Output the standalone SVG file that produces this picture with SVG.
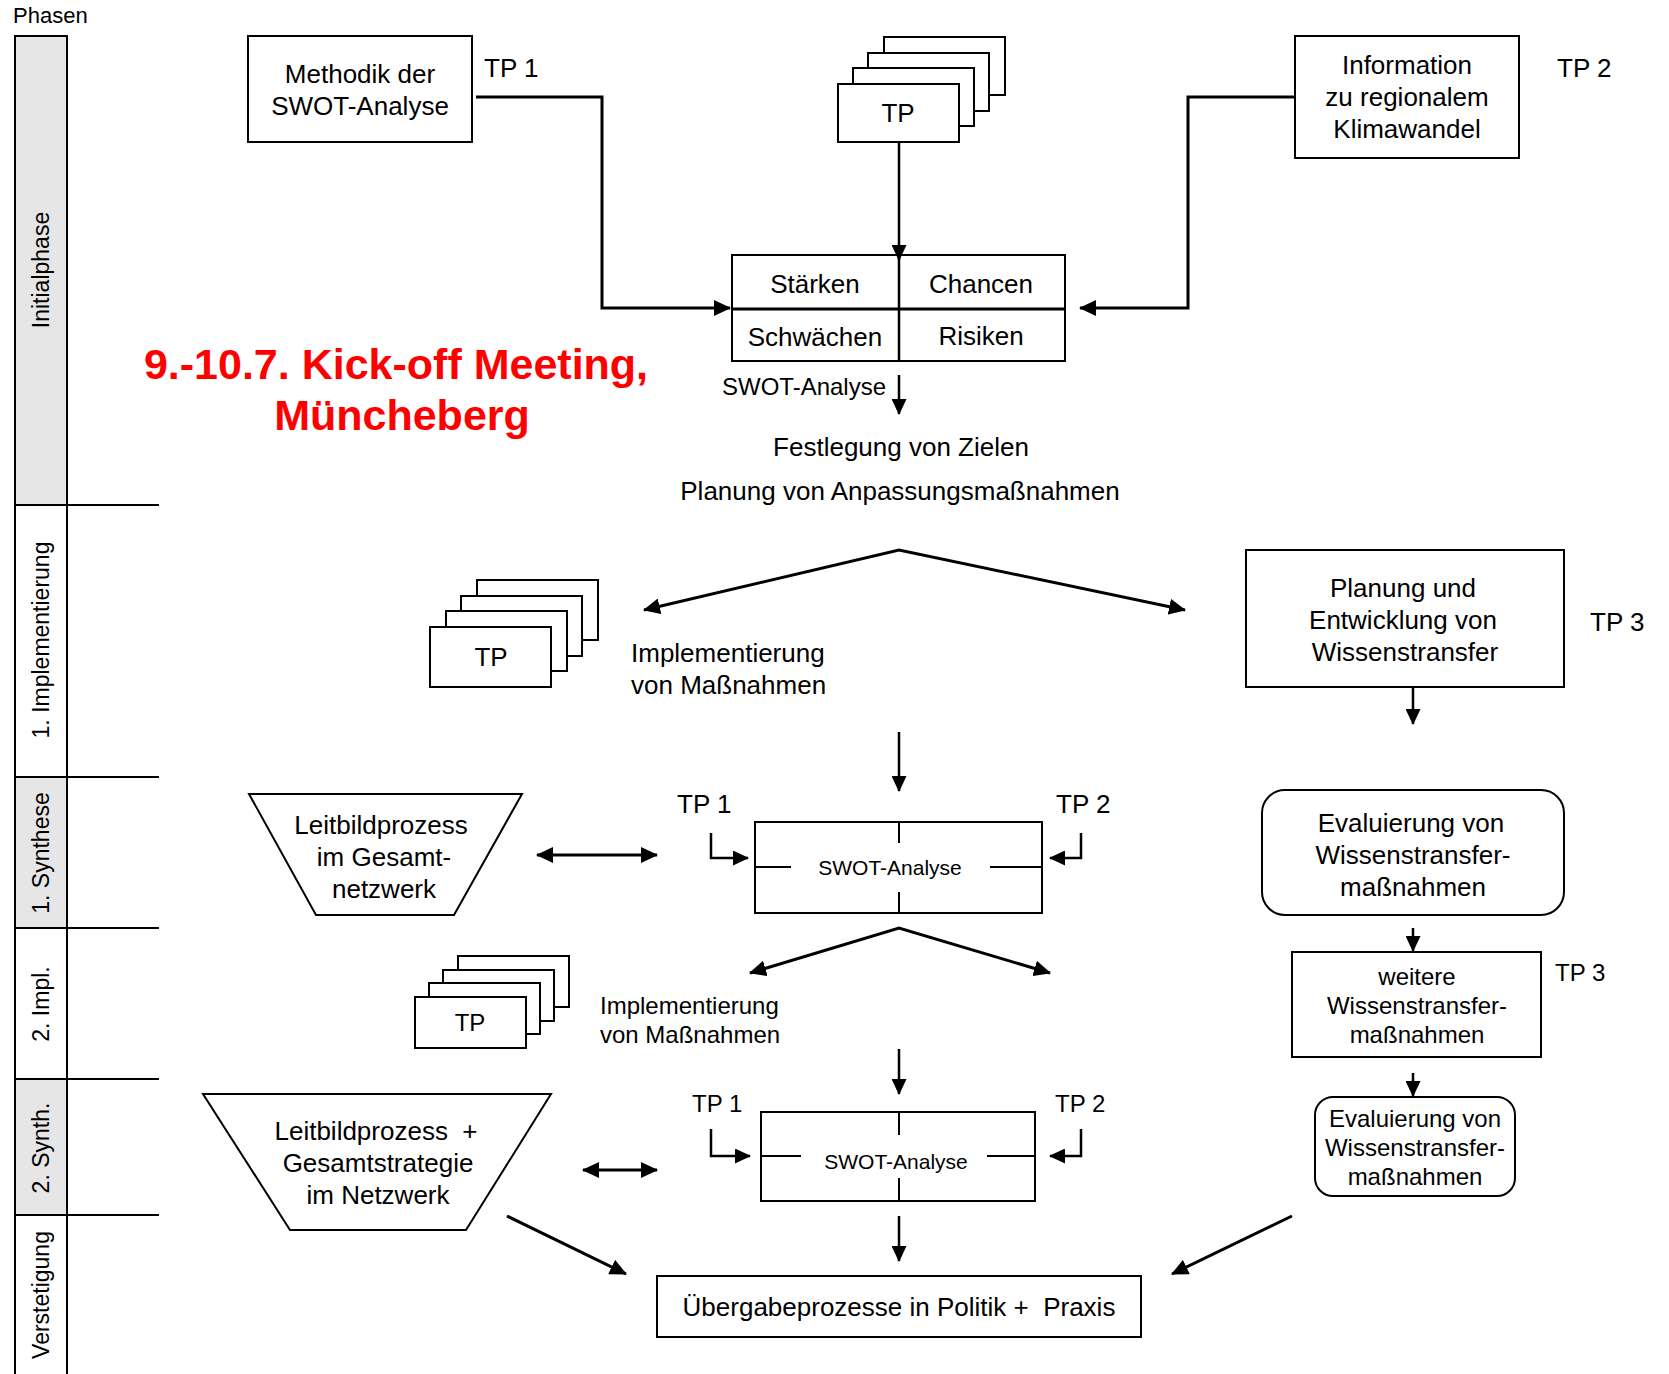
<svg xmlns="http://www.w3.org/2000/svg" width="1669" height="1374" viewBox="0 0 1669 1374">
<style>
text{font-family:"Liberation Sans",Arial,sans-serif;fill:#000}
.t26{font-size:26px}
.t24{font-size:24px}
.t21{font-size:21px}
.c{text-anchor:middle}
.ph{font-size:23px;text-anchor:middle}
.box{fill:#fff;stroke:#000;stroke-width:2}
.thick{fill:none;stroke:#000;stroke-width:3}
.thin{fill:none;stroke:#000;stroke-width:2.5}
.red{font-size:43px;font-weight:bold;fill:#ff0000;text-anchor:middle}
</style>
<defs>
<marker id="ah" markerUnits="userSpaceOnUse" markerWidth="17" markerHeight="16" refX="16" refY="8" orient="auto-start-reverse" viewBox="0 0 17 16">
<path d="M0,0 L17,8 L0,16 z" fill="#000"/>
</marker>
<marker id="as" markerUnits="userSpaceOnUse" markerWidth="16" markerHeight="15" refX="15" refY="7.5" orient="auto-start-reverse" viewBox="0 0 16 15">
<path d="M0,0 L16,7.5 L0,15 z" fill="#000"/>
</marker>
</defs>

<g id="phases">
<text x="13" y="23" style="font-size:22px">Phasen</text>
<rect x="15" y="36" width="52" height="469" fill="#e6e6e6" stroke="#000" stroke-width="2"/>
<rect x="15" y="505" width="52" height="272" fill="#fff" stroke="#000" stroke-width="2"/>
<rect x="15" y="777" width="52" height="151" fill="#e6e6e6" stroke="#000" stroke-width="2"/>
<rect x="15" y="928" width="52" height="151" fill="#fff" stroke="#000" stroke-width="2"/>
<rect x="15" y="1079" width="52" height="136" fill="#e6e6e6" stroke="#000" stroke-width="2"/>
<rect x="15" y="1215" width="52" height="165" fill="#fff" stroke="#000" stroke-width="2"/>
<g stroke="#000" stroke-width="2">
<line x1="15" y1="505" x2="159" y2="505"/>
<line x1="15" y1="777" x2="159" y2="777"/>
<line x1="15" y1="928" x2="159" y2="928"/>
<line x1="15" y1="1079" x2="159" y2="1079"/>
<line x1="15" y1="1215" x2="159" y2="1215"/>
</g>
<text class="ph" x="49" y="270" transform="rotate(-90 49 270)">Initialphase</text>
<text class="ph" x="49" y="640" transform="rotate(-90 49 640)">1. Implementierung</text>
<text class="ph" x="49" y="853" transform="rotate(-90 49 853)">1. Synthese</text>
<text class="ph" x="49" y="1004" transform="rotate(-90 49 1004)">2. Impl.</text>
<text class="ph" x="49" y="1148" transform="rotate(-90 49 1148)">2. Synth.</text>
<text class="ph" x="49" y="1295" transform="rotate(-90 49 1295)">Verstetigung</text>
</g>

<g id="title">
<text class="red" x="396" y="379">9.-10.7. Kick-off Meeting,</text>
<text class="red" x="402" y="430">Müncheberg</text>
</g>

<g id="methodik">
<rect class="box" x="248" y="36" width="224" height="106"/>
<text class="t26 c" x="360" y="83">Methodik der</text>
<text class="t26 c" x="360" y="115">SWOT-Analyse</text>
<text class="t26" x="484" y="77">TP 1</text>
</g>

<g id="tp-stack-1">
<rect class="box" x="884" y="37" width="121" height="58"/>
<rect class="box" x="868" y="53" width="121" height="58"/>
<rect class="box" x="853" y="68" width="121" height="58"/>
<rect class="box" x="838" y="84" width="121" height="58"/>
<text class="t26 c" x="898" y="122">TP</text>
</g>

<g id="information">
<rect class="box" x="1295" y="36" width="224" height="122"/>
<text class="t26 c" x="1407" y="74">Information</text>
<text class="t26 c" x="1407" y="106">zu regionalem</text>
<text class="t26 c" x="1407" y="138">Klimawandel</text>
<text class="t26" x="1557" y="77">TP 2</text>
</g>

<g id="swot-grid">
<rect class="box" x="732" y="255" width="333" height="106"/>
<line x1="899" y1="255" x2="899" y2="361" stroke="#000" stroke-width="2.5"/>
<line x1="732" y1="309" x2="1065" y2="309" stroke="#000" stroke-width="3"/>
<text class="t26 c" x="815" y="293">Stärken</text>
<text class="t26 c" x="981" y="293">Chancen</text>
<text class="t26 c" x="815" y="346">Schwächen</text>
<text class="t26 c" x="981" y="345">Risiken</text>
</g>

<g id="ziele">
<text class="t24" x="722" y="395">SWOT-Analyse</text>
<text class="t26 c" x="901" y="456">Festlegung von Zielen</text>
<text class="t26 c" x="900" y="500">Planung von Anpassungsmaßnahmen</text>
</g>

<g id="tp-stack-2">
<rect class="box" x="477" y="580" width="121" height="60"/>
<rect class="box" x="461" y="596" width="121" height="60"/>
<rect class="box" x="446" y="611" width="121" height="60"/>
<rect class="box" x="430" y="627" width="121" height="60"/>
<text class="t26 c" x="491" y="666">TP</text>
<text class="t26" x="631" y="662">Implementierung</text>
<text class="t26" x="631" y="694">von Maßnahmen</text>
</g>

<g id="planung-wt">
<rect class="box" x="1246" y="550" width="318" height="137"/>
<text class="t26 c" x="1403" y="597">Planung und</text>
<text class="t26 c" x="1403" y="629">Entwicklung von</text>
<text class="t26 c" x="1405" y="661">Wissenstransfer</text>
<text class="t26" x="1590" y="631">TP 3</text>
</g>

<g id="leitbild-1">
<polygon class="box" points="249,794 522,794 454,915 316,915"/>
<text class="t26 c" x="381" y="834">Leitbildprozess</text>
<text class="t26 c" x="384" y="866">im Gesamt-</text>
<text class="t26 c" x="384" y="898">netzwerk</text>
</g>

<g id="swot-1">
<rect class="box" x="755" y="822" width="287" height="91"/>
<g stroke="#000" stroke-width="2">
<line x1="899" y1="822" x2="899" y2="843"/>
<line x1="899" y1="892" x2="899" y2="913"/>
<line x1="755" y1="867" x2="791" y2="867"/>
<line x1="990" y1="867" x2="1042" y2="867"/>
</g>
<text class="t21 c" x="890" y="875">SWOT-Analyse</text>
<text class="t26" x="677" y="813">TP 1</text>
<text class="t26" x="1056" y="813">TP 2</text>
</g>

<g id="eval-1">
<rect class="box" x="1262" y="790" width="302" height="125" rx="23"/>
<text class="t26 c" x="1411" y="832">Evaluierung von</text>
<text class="t26 c" x="1413" y="864">Wissenstransfer-</text>
<text class="t26 c" x="1413" y="896">maßnahmen</text>
</g>

<g id="tp-stack-3">
<rect class="box" x="458" y="956" width="111" height="51"/>
<rect class="box" x="443" y="970" width="111" height="51"/>
<rect class="box" x="429" y="983" width="111" height="51"/>
<rect class="box" x="415" y="997" width="111" height="51"/>
<text class="t24 c" x="470" y="1031">TP</text>
<text class="t24" x="600" y="1014">Implementierung</text>
<text class="t24" x="600" y="1043">von Maßnahmen</text>
</g>

<g id="weitere">
<rect class="box" x="1292" y="952" width="249" height="105"/>
<text class="t24 c" x="1417" y="985">weitere</text>
<text class="t24 c" x="1417" y="1014">Wissenstransfer-</text>
<text class="t24 c" x="1417" y="1043">maßnahmen</text>
<text class="t24" x="1555" y="981">TP 3</text>
</g>

<g id="leitbild-2">
<polygon class="box" points="203,1094 551,1094 466,1230 290,1230"/>
<text class="t26 c" x="376" y="1140" xml:space="preserve">Leitbildprozess  +</text>
<text class="t26 c" x="378" y="1172">Gesamtstrategie</text>
<text class="t26 c" x="378" y="1204">im Netzwerk</text>
</g>

<g id="swot-2">
<rect class="box" x="761" y="1112" width="274" height="89"/>
<g stroke="#000" stroke-width="2">
<line x1="899" y1="1112" x2="899" y2="1135"/>
<line x1="899" y1="1178" x2="899" y2="1201"/>
<line x1="761" y1="1156" x2="801" y2="1156"/>
<line x1="987" y1="1156" x2="1035" y2="1156"/>
</g>
<text class="t21 c" x="896" y="1169">SWOT-Analyse</text>
<text class="t24" x="692" y="1112">TP 1</text>
<text class="t24" x="1055" y="1112">TP 2</text>
</g>

<g id="eval-2">
<rect class="box" x="1315" y="1097" width="200" height="99" rx="18"/>
<text class="t24 c" x="1415" y="1127">Evaluierung von</text>
<text class="t24 c" x="1415" y="1156">Wissenstransfer-</text>
<text class="t24 c" x="1415" y="1185">maßnahmen</text>
</g>

<g id="uebergabe">
<rect class="box" x="657" y="1276" width="484" height="61"/>
<text class="t26 c" x="899" y="1316" xml:space="preserve">Übergabeprozesse in Politik +  Praxis</text>
</g>

<g id="connectors">
<polyline class="thick" points="476,97 602,97 602,308 730,308" marker-end="url(#ah)"/>
<polyline class="thick" points="1295,97 1188,97 1188,308 1080,308" marker-end="url(#ah)"/>
<line class="thin" x1="899" y1="142" x2="899" y2="260" marker-end="url(#as)"/>
<line class="thin" x1="899" y1="375" x2="899" y2="414" marker-end="url(#as)"/>
<polyline class="thick" points="644,610 899,550 1185,610" marker-start="url(#ah)" marker-end="url(#ah)"/>
<line class="thin" x1="1413" y1="687" x2="1413" y2="724" marker-end="url(#as)"/>
<line class="thin" x1="899" y1="732" x2="899" y2="791" marker-end="url(#as)"/>
<line class="thick" x1="537" y1="855" x2="657" y2="855" marker-start="url(#ah)" marker-end="url(#ah)"/>
<polyline class="thin" points="711,833 711,858 748,858" marker-end="url(#as)"/>
<polyline class="thin" points="1081,833 1081,858 1050,858" marker-end="url(#as)"/>
<polyline class="thick" points="750,973 899,928 1050,973" marker-start="url(#ah)" marker-end="url(#ah)"/>
<line class="thin" x1="1413" y1="928" x2="1413" y2="951" marker-end="url(#as)"/>
<line class="thin" x1="899" y1="1049" x2="899" y2="1094" marker-end="url(#as)"/>
<line class="thin" x1="1413" y1="1073" x2="1413" y2="1096" marker-end="url(#as)"/>
<line class="thick" x1="583" y1="1170" x2="657" y2="1170" marker-start="url(#ah)" marker-end="url(#ah)"/>
<polyline class="thin" points="711,1129 711,1156 750,1156" marker-end="url(#as)"/>
<polyline class="thin" points="1081,1129 1081,1156 1050,1156" marker-end="url(#as)"/>
<line class="thin" x1="899" y1="1216" x2="899" y2="1261" marker-end="url(#as)"/>
<line class="thick" x1="507" y1="1216" x2="626" y2="1274" marker-end="url(#ah)"/>
<line class="thick" x1="1292" y1="1216" x2="1172" y2="1274" marker-end="url(#ah)"/>
</g>
</svg>
